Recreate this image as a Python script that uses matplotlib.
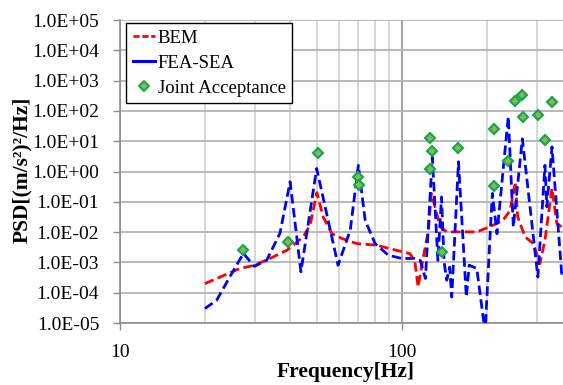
import numpy as np
import matplotlib
matplotlib.use("Agg")
import matplotlib.pyplot as plt
from matplotlib.lines import Line2D
from matplotlib.ticker import FuncFormatter, LogLocator, FixedLocator, NullFormatter

plt.rcParams['font.family'] = ['Liberation Serif', 'DejaVu Serif']

# BEM prediction
bem_freq = [20.0, 26.6, 29.9, 34.0, 39.0, 44.6, 47.2, 49.9, 52.5, 56.4, 61.1, 69.0,
            81.3, 95.7, 106.7, 111.0, 114.0, 119.0, 124.0, 127.0, 136.6, 144.0,
            160.5, 184.0, 204.0, 228.0, 241.6, 252.0, 257.0, 273.0, 292.0, 308.0,
            321.0, 340.0, 354.0, 368.0, 372.0]
bem_psd = [2.0e-4, 6.3e-4, 8.0e-4, 1.35e-3, 2.5e-3, 6.9e-3, 1.7e-2, 2.0e-1, 3.2e-2,
           8.9e-3, 6.2e-3, 4.2e-3, 3.7e-3, 2.5e-3, 1.95e-3, 1.05e-3, 1.55e-4, 1.5e-3,
           1.15e-2, 1.9e-1, 1.48e-2, 1.02e-2, 1.02e-2, 1.02e-2, 1.48e-2, 2.45e-2,
           5.2e-2, 4.5e-1, 3.2e-2, 6.9e-3, 4.2e-3, 9.1e-4, 5.4e-3, 2.8e-1, 1.9e-2,
           1.48e-2, 1.35e-2]

# FEA-SEA prediction
fea_freq = [20.0, 22.0, 24.5, 27.4, 29.9, 33.1, 36.9, 40.1, 43.8, 49.8, 59.3, 65.5,
            70.0, 74.0, 80.2, 89.3, 99.7, 111.0, 116.0, 121.0, 128.0, 134.0, 138.0,
            141.0, 144.0, 147.5, 150.0, 158.5, 169.0, 173.0, 184.0, 197.0, 205.0,
            209.0, 217.0, 238.0, 248.0, 267.0, 303.0, 321.0, 326.0, 340.0, 368.0, 372.0]
fea_psd = [3.0e-5, 5.6e-5, 3.3e-4, 2.0e-3, 7.4e-4, 1.17e-3, 9.1e-3, 4.6e-1, 4.9e-4,
           1.26, 8.1e-4, 1.15e-2, 1.6, 2.45e-2, 4.2e-3, 1.74e-3, 1.35e-3, 1.35e-3,
           1.17e-3, 2.95e-4, 3.0, 1.17e-3, 1.45e-1, 1.0e-3, 2.6e-4, 7.0e-4, 7.2e-5,
           2.1, 7.2e-5, 8.1e-4, 6.3e-4, 5.0e-6, 6.9e-3, 1.9e-1, 8.9e-3, 65.0, 1.48e-2,
           12.0, 3.3e-4, 1.6, 6.8e-2, 6.5, 4.3e-4, 5.0e-4]

# Joint acceptance results
ja_freq = [27.4, 39.5, 50.5, 70.0, 70.3, 125.6, 128.0, 125.6, 139.0, 158.5, 211.0,
           211.0, 238.0, 252.0, 267.0, 268.0, 304.0, 321.0, 340.0]
ja_psd = [2.5e-3, 4.8e-3, 4.0, 0.66, 0.35, 12.3, 4.8, 1.2, 2.2e-3, 5.8, 24.6, 0.33,
          2.2, 214.0, 333.0, 61.0, 76.0, 11.0, 192.0]

fig = plt.figure(figsize=(5.63, 3.85), dpi=100)
ax = fig.add_axes([0.2131, 0.161, 0.7869, 0.787])

dash = (0, (3.4, 1.6))
ax.plot(bem_freq, bem_psd, color='#ff0000', lw=2, linestyle=dash, zorder=3)
ax.plot(fea_freq, fea_psd, color='#0000ff', lw=2, linestyle=dash, zorder=4)
ax.plot(ja_freq, ja_psd, linestyle='none', marker='D', markersize=4.6,
        markerfacecolor='#8db35a', markeredgecolor='#10a84a', markeredgewidth=1.5,
        zorder=5)

ax.set_xscale('log')
ax.set_yscale('log')
ax.set_xlim(10, 372)
ax.set_ylim(1e-5, 1e5)

ax.yaxis.set_major_locator(LogLocator(base=10, numticks=20))
ax.yaxis.set_minor_locator(FixedLocator([]))
ax.yaxis.set_major_formatter(FuncFormatter(lambda v, p: '{:.1E}'.format(v)))
ax.xaxis.set_major_locator(FixedLocator([10, 100]))
ax.xaxis.set_minor_locator(FixedLocator([20, 30, 40, 50, 60, 70, 80, 90, 200, 300]))
ax.xaxis.set_major_formatter(FuncFormatter(lambda v, p: '%d' % v))
ax.xaxis.set_minor_formatter(NullFormatter())

ax.tick_params(axis='both', which='major', labelsize=14, length=5, width=1,
               color='#8c8c8c', pad=10)
ax.tick_params(axis='x', which='minor', length=0)

ax.grid(True, axis='y', which='major', color='#b4b4b4', lw=1.3)
ax.grid(True, axis='x', which='minor', color='#d4d4d4', lw=1.3)
ax.grid(True, axis='x', which='major', color='#8c8c8c', lw=1.1)
ax.set_axisbelow(True)

for side in ['top', 'right']:
    ax.spines[side].set_visible(False)
for side in ['left', 'bottom']:
    ax.spines[side].set_color('#8c8c8c')
    ax.spines[side].set_linewidth(1.2)

ax.set_xlabel('Frequency[Hz]', fontsize=15.5, fontweight='bold')
ax.set_ylabel('PSD[(m/s²)²/Hz]', fontsize=15.5, fontweight='bold')
ax.xaxis.set_label_coords(0.51, -0.13)
ax.yaxis.set_label_coords(-0.198, 0.505)

handles = [
    Line2D([], [], color='#ff0000', lw=2, linestyle=(0, (2.2, 1.0))),
    Line2D([], [], color='#0000ff', lw=2.2, linestyle='-'),
    Line2D([], [], linestyle='none', marker='D', markersize=4.6,
           markerfacecolor='#8db35a', markeredgecolor='#10a84a', markeredgewidth=1.4),
]
leg = ax.legend(handles, ['BEM', 'FEA-SEA', 'Joint Acceptance'], loc='upper left',
                bbox_to_anchor=(0.0135, 0.99), borderaxespad=0, fontsize=13.5,
                handlelength=1.2, handletextpad=0.15, labelspacing=0.42,
                borderpad=0.35, fancybox=False, framealpha=1, edgecolor='black')
leg.get_frame().set_linewidth(1.0)

fig.savefig('out.png', dpi=100)
